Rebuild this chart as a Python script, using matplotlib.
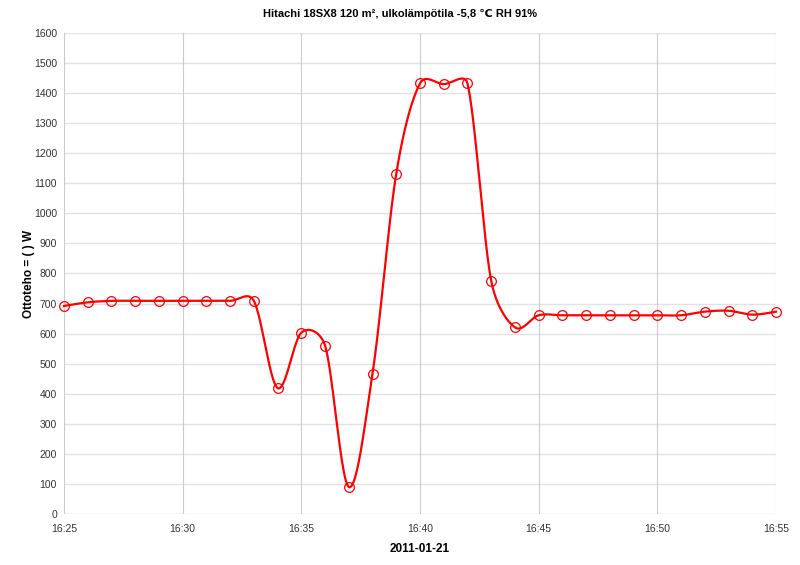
import numpy as np
import matplotlib
matplotlib.use("Agg")
import matplotlib.pyplot as plt

plt.rcParams['font.family'] = ['Liberation Sans', 'DejaVu Sans']

# data (one sample per minute)
times = ["16:25", "16:26", "16:27", "16:28", "16:29", "16:30", "16:31", "16:32",
         "16:33", "16:34", "16:35", "16:36", "16:37", "16:38", "16:39", "16:40",
         "16:41", "16:42", "16:43", "16:44", "16:45", "16:46", "16:47", "16:48",
         "16:49", "16:50", "16:51", "16:52", "16:53", "16:54", "16:55"]
power = [692, 704, 709, 709, 709, 709, 709, 709,
         709, 419, 603, 560, 90, 467, 1132, 1432,
         1430, 1432, 776, 621, 661, 661, 661, 661,
         661, 661, 661, 673, 676, 663, 673]
tick_labels = ["16:25", "16:30", "16:35", "16:40", "16:45", "16:50", "16:55"]

title = "Hitachi 18SX8 120 m², ulkolämpötila -5,8 ℃ RH 91%"
xlabel = "2011-01-21"
ylabel = "Ottoteho = ( ) W"


def to_min(s):
    h, m = s.split(":")
    return int(h) * 60 + int(m)


x = np.array([to_min(t) for t in times], dtype=float)
y = np.array(power, dtype=float)


def smooth(x, y, sx, sy, n=40):
    # spreadsheet-like smoothing: bezier arms of 1/6 the neighbour chord,
    # clamped to half of the segment length (done in screen pixels)
    P = np.column_stack([x * sx, y * sy])
    N = len(P)
    t = np.linspace(0, 1, n, endpoint=False)[:, None]
    out = []

    def arm(a, b, seg):
        v = (b - a) / 6
        L = np.hypot(*v)
        lim = np.hypot(*seg) / 2
        if L > lim:
            v = v * lim / L
        return v

    for i in range(N - 1):
        p0, p3 = P[i], P[i + 1]
        seg = p3 - p0
        c1 = p0 + arm(P[max(i - 1, 0)], p3, seg)
        c2 = p3 - arm(p0, P[min(i + 2, N - 1)], seg)
        b = (1 - t) ** 3 * p0 + 3 * t * (1 - t) ** 2 * c1 + 3 * t ** 2 * (1 - t) * c2 + t ** 3 * p3
        out.append(b)
    out.append(P[-1:])
    out = np.vstack(out)
    return out[:, 0] / sx, out[:, 1] / sy


# pixel scale of the plot area
cx, cy = smooth(x, y, 712 / 30, 481 / 1600)

fig = plt.figure(figsize=(8, 5.65), dpi=100)
ax = fig.add_axes([0.08, 0.0903, 0.89, 0.8513])

ax.set_xlim(x[0], x[-1])
ax.set_ylim(0, 1600)
ax.set_yticks(np.arange(0, 1601, 100))
ax.set_xticks([to_min(t) for t in tick_labels])
ax.set_xticklabels(tick_labels)

for v in np.arange(0, 1601, 100):
    ax.axhline(v, color='#e2e2e2', lw=1.0, zorder=0)
for t in tick_labels:
    ax.axvline(to_min(t), color='#cccccc', lw=0.8, zorder=0)

ax.plot(cx, cy, color='red', lw=1.6, zorder=3, clip_on=False)
ax.plot(x, y, 'o', mfc='none', mec='red', ms=7, mew=0.9, zorder=4, clip_on=False)

for s in ax.spines.values():
    s.set_visible(False)
ax.tick_params(length=0, labelsize=7.5, colors='#333333', pad=7)
ax.tick_params(axis='y', pad=5)

fig.text(0.5, 1 - 14 / 565, title, fontsize=8, fontweight='bold', ha='center', va='center')
ax.set_xlabel(xlabel, fontsize=8.5, fontweight='bold', labelpad=6.5)
ax.set_ylabel(ylabel, fontsize=8.5, fontweight='bold', labelpad=-1)

fig.savefig("out.png", dpi=100)
